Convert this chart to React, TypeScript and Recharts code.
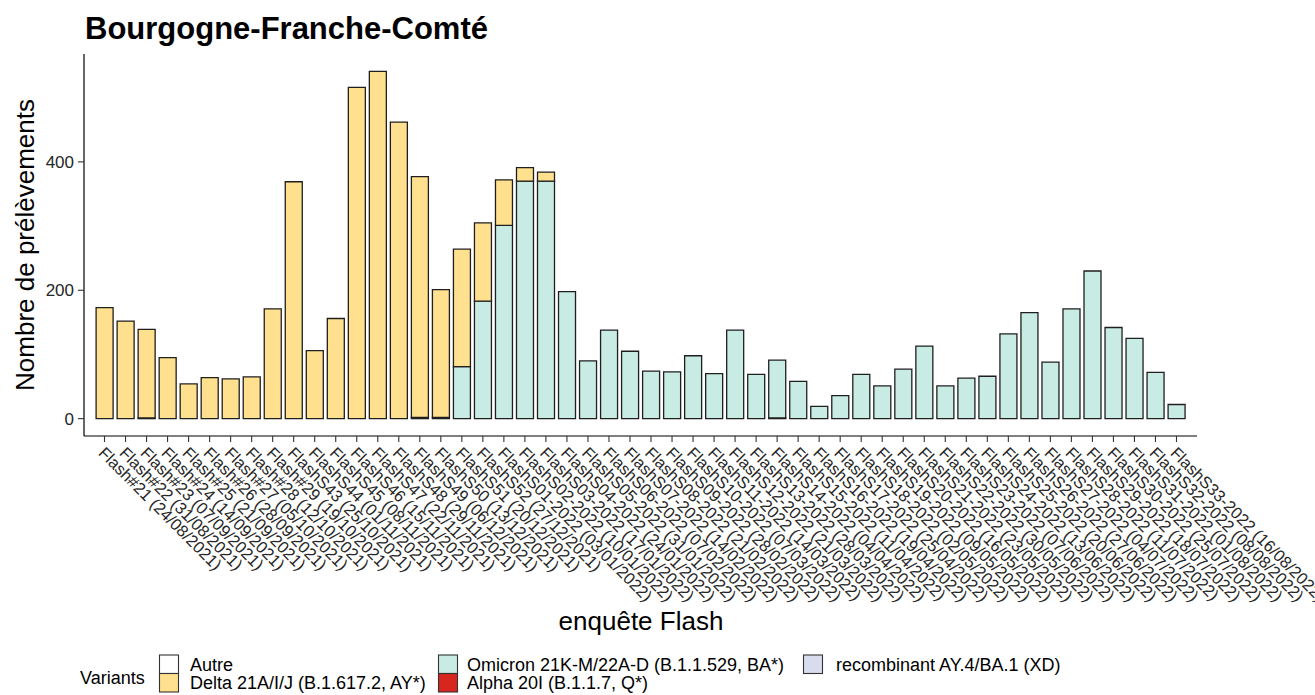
import React from 'react';
import { BarChart, Bar, XAxis, YAxis, Label } from 'recharts';

const FONT = '"Liberation Sans", Arial, Helvetica, sans-serif';

const categories = [
  'Flash#21 (24/08/2021)', 'Flash#22 (31/08/2021)', 'Flash#23 (07/09/2021)', 'Flash#24 (14/09/2021)',
  'Flash#25 (21/09/2021)', 'Flash#26 (28/09/2021)', 'Flash#27 (05/10/2021)', 'Flash#28 (12/10/2021)',
  'Flash#29 (19/10/2021)', 'FlashS43 (25/10/2021)', 'FlashS44 (01/11/2021)', 'FlashS45 (08/11/2021)',
  'FlashS46 (15/11/2021)', 'FlashS47 (22/11/2021)', 'FlashS48 (29/11/2021)', 'FlashS49 (06/12/2021)',
  'FlashS50 (13/12/2021)', 'FlashS51 (20/12/2021)', 'FlashS52 (27/12/2021)',
  'FlashS01-2022 (03/01/2022)', 'FlashS02-2022 (10/01/2022)', 'FlashS03-2022 (17/01/2022)',
  'FlashS04-2022 (24/01/2022)', 'FlashS05-2022 (31/01/2022)', 'FlashS06-2022 (07/02/2022)',
  'FlashS07-2022 (14/02/2022)', 'FlashS08-2022 (21/02/2022)', 'FlashS09-2022 (28/02/2022)',
  'FlashS10-2022 (07/03/2022)', 'FlashS11-2022 (14/03/2022)', 'FlashS12-2022 (21/03/2022)',
  'FlashS13-2022 (28/03/2022)', 'FlashS14-2022 (04/04/2022)', 'FlashS15-2022 (11/04/2022)',
  'FlashS16-2022 (19/04/2022)', 'FlashS17-2022 (25/04/2022)', 'FlashS18-2022 (02/05/2022)',
  'FlashS19-2022 (09/05/2022)', 'FlashS20-2022 (16/05/2022)', 'FlashS21-2022 (23/05/2022)',
  'FlashS22-2022 (30/05/2022)', 'FlashS23-2022 (07/06/2022)', 'FlashS24-2022 (13/06/2022)',
  'FlashS25-2022 (20/06/2022)', 'FlashS26-2022 (27/06/2022)', 'FlashS27-2022 (04/07/2022)',
  'FlashS28-2022 (11/07/2022)', 'FlashS29-2022 (18/07/2022)', 'FlashS30-2022 (25/07/2022)',
  'FlashS31-2022 (01/08/2022)', 'FlashS32-2022 (08/08/2022)', 'FlashS33-2022 (16/08/2022)',
];

const autre = [
  0, 0, 1, 0, 0, 0, 0, 0, 0, 0, 0, 0, 0, 0, 0, 2, 2, 0, 0,
  0, 0, 0, 0, 0, 0, 0, 0, 0, 0, 0, 0, 0, 1, 0, 0, 0, 0, 0, 0, 0, 0, 0, 0, 0, 0, 0, 0, 0, 0, 0, 0, 0,
];

const omicron = [
  0, 0, 0, 0, 0, 0, 0, 0, 0, 0, 0, 0, 0, 0, 0, 0, 0, 81, 183,
  301, 370, 370, 198, 90, 138, 105, 74, 73, 98, 70, 138, 69, 90, 58, 19, 36, 69, 51, 77, 113,
  51, 63, 66, 132, 165, 88, 171, 230, 142, 125, 72, 22,
];

const delta = [
  173, 152, 138, 95, 54, 64, 62, 65, 171, 369, 106, 156, 516, 541, 462, 375, 199, 183, 122,
  71, 21, 14, 0, 0, 0, 0, 0, 0, 0, 0, 0, 0, 0, 0, 0, 0, 0, 0, 0, 0, 0, 0, 0, 0, 0, 0, 0, 0, 0, 0, 0, 0,
];

const yTicks = [0, 200, 400];

const legendItems = [
  { name: 'Autre', color: '#FFFFFF' },
  { name: 'Delta 21A/I/J (B.1.617.2, AY*)', color: '#FEE08E' },
  { name: 'Omicron 21K-M/22A-D (B.1.1.529, BA*)', color: '#C8EBE3' },
  { name: 'Alpha 20I (B.1.1.7, Q*)', color: '#D7261E' },
  { name: 'recombinant AY.4/BA.1 (XD)', color: '#D9DBEE' },
];

const data = categories.map((c, i) => ({
  label: c,
  autre: autre[i],
  omicron: omicron[i],
  delta: delta[i],
}));

const XTick = (props: any) => {
  const { x, y, payload } = props;
  const bx = x - 7;
  const by = y + 12;
  return (
    <text
      x={bx}
      y={by}
      transform={`rotate(45, ${bx}, ${by})`}
      textAnchor="start"
      fontSize={16.5}
      fontFamily={FONT}
      fill="#262626"
    >
      {payload.value}
    </text>
  );
};

const YTick = (props: any) => {
  const { x, y, payload } = props;
  return (
    <text x={x} y={y} dy={6} textAnchor="end" fontSize={17} fontFamily={FONT} fill="#262626">
      {payload.value}
    </text>
  );
};

const legendPos = [
  { x: 159.5, y: 655, tx: 190 },
  { x: 159.5, y: 673.5, tx: 190 },
  { x: 438.5, y: 655, tx: 467 },
  { x: 438.5, y: 673.5, tx: 467 },
  { x: 803.5, y: 655, tx: 836 },
];

export default function App() {
  return (
    <div style={{ position: 'absolute', left: 0, top: 0, width: 1315, height: 695, background: '#fff', fontFamily: FONT }}>
      <BarChart
        width={1315}
        height={695}
        data={data}
        margin={{ top: 54, right: 118, bottom: 59, left: 44 }}
        barCategoryGap="10%"
      >
        <XAxis
          dataKey="label"
          interval={0}
          tick={XTick}
          tickSize={6}
          tickMargin={0}
          height={200}
          padding={{ left: 10, right: 10 }}
          axisLine={{ stroke: '#000', strokeWidth: 1.2 }}
          tickLine={{ stroke: '#333', strokeWidth: 1.1 }}
        >
          <Label
            content={() => (
              <text x={641} y={630} textAnchor="middle" fontSize={26} fontFamily={FONT} fill="#000">
                enquête Flash
              </text>
            )}
          />
        </XAxis>
        <YAxis
          type="number"
          domain={[-27.05, 568.05]}
          ticks={yTicks}
          allowDataOverflow
          width={40}
          tick={YTick}
          tickSize={6}
          tickMargin={4}
          axisLine={{ stroke: '#000', strokeWidth: 1.2 }}
          tickLine={{ stroke: '#333', strokeWidth: 1.1 }}
        >
          <Label
            content={() => (
              <text
                x={34}
                y={245}
                transform="rotate(-90, 34, 245)"
                textAnchor="middle"
                fontSize={26}
                fontFamily={FONT}
                fill="#000"
              >
                Nombre de prélèvements
              </text>
            )}
          />
        </YAxis>
        <Bar dataKey="autre" stackId="a" fill={legendItems[0].color} stroke="#1f1f1f" strokeWidth={1.3} isAnimationActive={false} />
        <Bar dataKey="omicron" stackId="a" fill={legendItems[2].color} stroke="#1f1f1f" strokeWidth={1.3} isAnimationActive={false} />
        <Bar dataKey="delta" stackId="a" fill={legendItems[1].color} stroke="#1f1f1f" strokeWidth={1.3} isAnimationActive={false} />
      </BarChart>
      <svg
        width={1315}
        height={695}
        style={{ position: 'absolute', left: 0, top: 0, pointerEvents: 'none' }}
      >
        <text x={85} y={39} fontSize={31} fontWeight="bold" fontFamily={FONT} fill="#000">
          Bourgogne-Franche-Comté
        </text>
        <text x={80} y={684} fontSize={18} fontFamily={FONT} fill="#000">
          Variants
        </text>
        {legendItems.map((it, i) => (
          <g key={it.name}>
            <rect
              x={legendPos[i].x}
              y={legendPos[i].y}
              width={19}
              height={18.5}
              fill={it.color}
              stroke="#333"
              strokeWidth={1.1}
            />
            <text x={legendPos[i].tx} y={legendPos[i].y + 15.5} fontSize={18} fontFamily={FONT} fill="#000">
              {it.name}
            </text>
          </g>
        ))}
      </svg>
    </div>
  );
}
